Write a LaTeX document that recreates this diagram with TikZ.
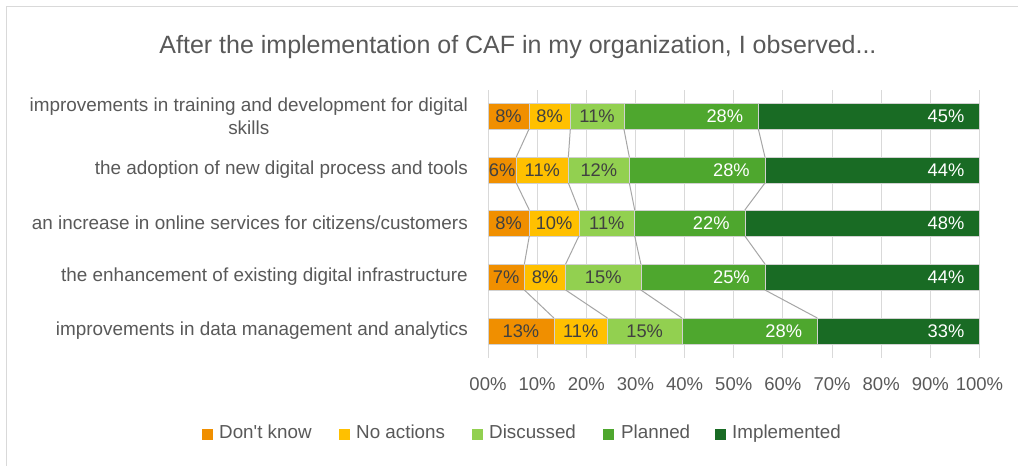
\documentclass[tikz,border=0pt]{standalone}
\usepackage{fontspec}
\setmainfont{Liberation Sans}
\definecolor{txt}{HTML}{595959}
\definecolor{dark}{HTML}{404040}
\definecolor{grid}{HTML}{D9D9D9}
\definecolor{dk}{HTML}{F08F00}
\definecolor{na}{HTML}{FFC000}
\definecolor{di}{HTML}{92D050}
\definecolor{pl}{HTML}{4EA72E}
\definecolor{im}{HTML}{196B24}
\definecolor{serl}{HTML}{A6A6A6}
\begin{document}
\begin{tikzpicture}[x=1pt,y=-1pt,
  seg/.style={draw=black!18,line width=0.6pt,minimum height=26pt,inner sep=0pt,outer sep=0pt,anchor=west},
  inlbl/.style={text=dark,font=\fontsize{18.3}{20}\selectfont,inner sep=0pt,text height=13pt,text depth=0pt},
  outlbl/.style={text=white,font=\fontsize{18.3}{20}\selectfont,inner sep=0pt,anchor=east,text height=13pt,text depth=0pt},
  serline/.style={draw=serl,line width=1pt},
  gridline/.style={draw=grid,line width=1pt},
  catlbl/.style={text=txt,font=\fontsize{18.9}{23}\selectfont,inner sep=0pt,anchor=east,align=center},
  ticklbl/.style={text=txt,font=\fontsize{18.5}{20}\selectfont,inner sep=0pt,text height=13pt,text depth=0pt},
  legbox/.style={minimum size=11pt,inner sep=0pt,outer sep=0pt,anchor=west},
  legtxt/.style={text=txt,font=\fontsize{18.8}{20}\selectfont,inner sep=0pt,anchor=base west}]
\useasboundingbox (0,0) rectangle (1018,466);
\fill[white] (0,0) rectangle (1018,466);
\draw[grid,line width=1.5pt] (6.5,470) |- (1020,6.5);
\node[text=txt,font=\fontsize{25}{28}\selectfont,inner sep=0pt] (title) at (518,47) {After the implementation of CAF in my organization, I observed...};
% gridlines and ticks
\foreach \i in {0,...,10}{
  \coordinate (gt\i) at ({488+\i*49.15},90);
  \coordinate (gb\i) at ({488+\i*49.15},358);
  \draw[gridline] (gt\i) -- (gb\i);
  \node[ticklbl] (tick\i) at ({488+\i*49.15},384) {\i0\%};
}
% bars
\foreach \r/\y/\a/\b/\c/\d/\la/\lb/\lc/\ld/\le in {
  1/116/8.35/16.75/27.65/55.0/8/8/11/28/45,
  2/170/5.75/16.35/28.75/56.35/6/11/12/28/44,
  3/223/8.4/18.5/29.85/52.25/8/10/11/22/48,
  4/277/7.4/15.8/31.1/56.35/7/8/15/25/44,
  5/331/13.4/24.3/39.45/67.0/13/11/15/28/33}{
  \node[seg,fill=dk,minimum width={\a*4.915pt}] (r\r-s1) at (488,\y) {};
  \node[seg,fill=na,minimum width={(\b-\a)*4.915pt}] (r\r-s2) at (r\r-s1.east) {};
  \node[seg,fill=di,minimum width={(\c-\b)*4.915pt}] (r\r-s3) at (r\r-s2.east) {};
  \node[seg,fill=pl,minimum width={(\d-\c)*4.915pt}] (r\r-s4) at (r\r-s3.east) {};
  \node[seg,fill=im,minimum width={(100-\d)*4.915pt}] (r\r-s5) at (r\r-s4.east) {};
  \node[inlbl] (l\r-1) at (r\r-s1.center) {\la\%};
  \node[inlbl] (l\r-2) at (r\r-s2.center) {\lb\%};
  \node[inlbl] (l\r-3) at (r\r-s3.center) {\lc\%};
  \node[outlbl] (l\r-4) at ([xshift=-15pt]r\r-s4.east) {\ld\%};
  \node[outlbl] (l\r-5) at ([xshift=-15pt]r\r-s5.east) {\le\%};
}
% series lines
\foreach \r in {1,...,4}{
  \pgfmathtruncatemacro\n{\r+1}
  \foreach \s in {1,...,4}{
    \draw[serline] (r\r-s\s.south east) -- (r\n-s\s.north east);
  }
}
% category labels
\node[catlbl] (c1) at (468,116) {improvements in training and development for digital\\skills};
\node[catlbl] (c2) at (468,170) {the adoption of new digital process and tools};
\node[catlbl] (c3) at (468,223) {an increase in online services for citizens/customers};
\node[catlbl] (c4) at (468,277) {the enhancement of existing digital infrastructure};
\node[catlbl] (c5) at (468,331) {improvements in data management and analytics};
% legend
\node[legbox,fill=dk] (k1) at (202,434) {};
\node[legtxt] (t1) at (219,438) {Don\textquotesingle t know};
\node[legbox,fill=na] (k2) at (339,434) {};
\node[legtxt] (t2) at (356,438) {No actions};
\node[legbox,fill=di] (k3) at (472,434) {};
\node[legtxt] (t3) at (489,438) {Discussed};
\node[legbox,fill=pl] (k4) at (603,434) {};
\node[legtxt] (t4) at (621,438) {Planned};
\node[legbox,fill=im] (k5) at (715,434) {};
\node[legtxt] (t5) at (732,438) {Implemented};
\end{tikzpicture}
\end{document}
